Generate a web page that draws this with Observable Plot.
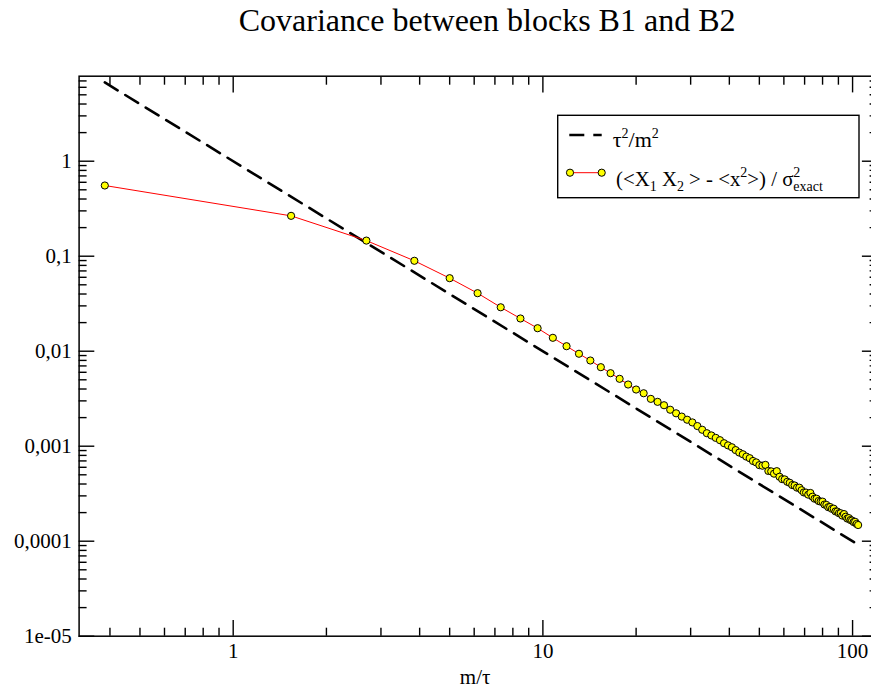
<!DOCTYPE html>
<html><head><meta charset="utf-8">
<script src="https://cdn.jsdelivr.net/npm/d3@7"></script>
<script src="https://cdn.jsdelivr.net/npm/@observablehq/plot@0.6"></script>
<style>
html,body{margin:0;padding:0;background:#fff;}
#chart{width:871px;height:689px;overflow:hidden;}
#chart svg text{font-family:'Liberation Serif','Times New Roman',serif;}
</style></head><body><div id="chart"></div>
<script>
// ---- data ----
const mOverTau = [0.385, 1.538, 2.692, 3.846, 5.0, 6.154, 7.308, 8.462, 9.615, 10.769,
  11.923, 13.077, 14.231, 15.385, 16.538, 17.692, 18.846, 20.0, 21.154, 22.308,
  23.462, 24.615, 25.769, 26.923, 28.077, 29.231, 30.385, 31.538, 32.692, 33.846,
  35.0, 36.154, 37.308, 38.462, 39.615, 40.769, 41.923, 43.077, 44.231, 45.385,
  46.538, 47.692, 48.846, 50.0, 51.154, 52.308, 53.462, 54.615, 55.769, 56.923,
  58.077, 59.231, 60.385, 61.538, 62.692, 63.846, 65.0, 66.154, 67.308, 68.462,
  69.615, 70.769, 71.923, 73.077, 74.231, 75.385, 76.538, 77.692, 78.846, 80.0,
  81.154, 82.308, 83.462, 84.615, 85.769, 86.923, 88.077, 89.231, 90.385, 91.538,
  92.692, 93.846, 95.0, 96.154, 97.308, 98.462, 99.615, 100.769, 101.923, 103.077, 104.231];
const covariance = [0.555, 0.266, 0.146, 0.0895, 0.0587, 0.0408, 0.0290, 0.0221, 0.01746, 0.01384,
  0.01129, 0.0094, 0.00798, 0.00679, 0.00587, 0.00512, 0.00446, 0.00395, 0.00361, 0.00315,
  0.00293, 0.0027, 0.00242, 0.00222, 0.00205, 0.0019, 0.00178, 0.00163, 0.00149, 0.00137,
  0.001298, 0.001224, 0.001157, 0.001075, 0.001020, 0.000975, 0.000910, 0.000857, 0.000823, 0.000777,
  0.000748, 0.000699, 0.000675, 0.000632, 0.000623, 0.000636, 0.000549, 0.000543, 0.000514, 0.000546,
  0.000477, 0.000450, 0.000447, 0.000422, 0.000412, 0.000390, 0.000386, 0.000366, 0.000366, 0.000344,
  0.000326, 0.000325, 0.000309, 0.000322, 0.000294, 0.000280, 0.000280, 0.000265, 0.000261, 0.000261,
  0.000243, 0.000241, 0.000228, 0.000229, 0.000219, 0.000220, 0.000206, 0.000205, 0.000197, 0.000197,
  0.000186, 0.000193, 0.000181, 0.000173, 0.000175, 0.000167, 0.000165, 0.000159, 0.000160, 0.000152, 0.000148];
const refX = [0.385, 104.231];          // τ²/m² reference line
const refY = [6.746, 0.0000920];

const xMajor = [1, 10, 100];
const xMajorLabels = ["1", "10", "100"];
const xMinor = [0.4, 0.5, 0.6, 0.7, 0.8, 0.9, 2, 3, 4, 5, 6, 7, 8, 9, 20, 30, 40, 50, 60, 70, 80, 90];
const yMajor = [1e-5, 1e-4, 1e-3, 1e-2, 1e-1, 1];
const yMajorLabels = ["1e-05", "0,0001", "0,001", "0,01", "0,1", "1"];
const yMinor = [2e-5, 3e-5, 4e-5, 5e-5, 6e-5, 7e-5, 8e-5, 9e-5,
  2e-4, 3e-4, 4e-4, 5e-4, 6e-4, 7e-4, 8e-4, 9e-4,
  2e-3, 3e-3, 4e-3, 5e-3, 6e-3, 7e-3, 8e-3, 9e-3,
  0.02, 0.03, 0.04, 0.05, 0.06, 0.07, 0.08, 0.09,
  0.2, 0.3, 0.4, 0.5, 0.6, 0.7, 0.8, 0.9, 2, 3, 4, 5, 6, 7];
const title = "Covariance between blocks B1 and B2";
const xLabel = "m/τ";

// ---- build ----
const series = mOverTau.map((x, i) => ({x, y: covariance[i]}));
const ref = refX.map((x, i) => ({x, y: refY[i]}));
const xTicks = xMajor.map((v, i) => ({v, label: xMajorLabels[i]}));
const yTicks = yMajor.map((v, i) => ({v, label: yMajorLabels[i]}));
const font = "'Liberation Serif', 'Times New Roman', serif";
const tickW = 1.4, majorLen = 15.7, minorLen = 8;

const plot = Plot.plot({
  width: 871, height: 689,
  marginLeft: 78.6, marginRight: -5.6, marginTop: 75.7, marginBottom: 53.3,
  style: {fontFamily: font, fontSize: "21px", background: "white", color: "black", overflow: "visible"},
  x: {type: "log", domain: [0.318, 120], axis: null},
  y: {type: "log", domain: [1e-5, 7.85], axis: null},
  marks: [
    Plot.line(ref, {x: "x", y: "y", stroke: "black", strokeWidth: 2.6, strokeDasharray: "15,9"}),
    Plot.line(series, {x: "x", y: "y", stroke: "#ff0000", strokeWidth: 1}),
    Plot.dot(series, {x: "x", y: "y", r: 3.6, fill: "#ffff00", stroke: "black", strokeWidth: 1}),
    Plot.axisX(xMajor, {anchor: "bottom", tickSize: -majorLen, strokeWidth: tickW, fill: "none", label: null}),
    Plot.axisX(xMinor, {anchor: "bottom", tickSize: -minorLen, strokeWidth: tickW, fill: "none", label: null}),
    Plot.axisX(xMajor, {anchor: "top", tickSize: -majorLen, strokeWidth: tickW, fill: "none", label: null}),
    Plot.axisX(xMinor, {anchor: "top", tickSize: -minorLen, strokeWidth: tickW, fill: "none", label: null}),
    Plot.axisY(yMajor, {anchor: "left", tickSize: -majorLen, strokeWidth: tickW, fill: "none", label: null}),
    Plot.axisY(yMinor, {anchor: "left", tickSize: -minorLen, strokeWidth: tickW, fill: "none", label: null}),
    Plot.axisY(yMajor, {anchor: "right", tickSize: -majorLen, strokeWidth: tickW, fill: "none", label: null}),
    Plot.axisY(yMinor, {anchor: "right", tickSize: -minorLen, strokeWidth: tickW, fill: "none", label: null}),
    Plot.text(xTicks, {x: "v", frameAnchor: "bottom", dy: 15, lineAnchor: "middle", text: "label", fontSize: 21, fontFamily: font}),
    Plot.text(yTicks, {y: "v", frameAnchor: "left", dx: -7.3, textAnchor: "end", lineAnchor: "middle", text: "label", fontSize: 21, fontFamily: font}),
    Plot.frame({stroke: "black", strokeWidth: 1.5}),
    Plot.text([title], {frameAnchor: "top", dx: 9, dy: -55.7, lineAnchor: "middle", fontSize: 32, fontFamily: font, text: d => d}),
    Plot.text([xLabel], {frameAnchor: "bottom", dx: -3, dy: 41.3, lineAnchor: "middle", fontSize: 21, fontFamily: font, text: d => d})
  ]
});
document.getElementById("chart").appendChild(plot);

// ---- legend ----
const svg = d3.select(plot);
const lg = svg.append("g").attr("font-family", font).attr("fill", "black").attr("text-anchor", "start");
lg.append("rect").attr("x", 557.7).attr("y", 115.3).attr("width", 301.3).attr("height", 82.4)
  .attr("fill", "white").attr("stroke", "black").attr("stroke-width", 1.4);
lg.append("line").attr("x1", 569.3).attr("x2", 601.7).attr("y1", 135).attr("y2", 135)
  .attr("stroke", "black").attr("stroke-width", 2.6).attr("stroke-dasharray", "15,9");
const t1 = lg.append("text").attr("x", 612.7).attr("y", 146.7).attr("font-size", 22);
t1.append("tspan").text("τ");
t1.append("tspan").attr("dy", -9).attr("font-size", 14).text("2");
t1.append("tspan").attr("dy", 9).text("/m");
t1.append("tspan").attr("dy", -9).attr("font-size", 14).text("2");
lg.append("line").attr("x1", 570).attr("x2", 601.7).attr("y1", 172.7).attr("y2", 172.7)
  .attr("stroke", "#ff0000").attr("stroke-width", 1);
[570, 601.7].forEach(cx => lg.append("circle").attr("cx", cx).attr("cy", 172.7).attr("r", 3.6)
  .attr("fill", "#ffff00").attr("stroke", "black").attr("stroke-width", 1));
const t2 = lg.append("text").attr("x", 616).attr("y", 186).attr("font-size", 20.8);
t2.append("tspan").text("(<X");
t2.append("tspan").attr("dy", 5).attr("font-size", 14).text("1");
t2.append("tspan").attr("dy", -5).text(" X");
t2.append("tspan").attr("dy", 5).attr("font-size", 14).text("2");
t2.append("tspan").attr("dy", -5).text(" > - <x");
t2.append("tspan").attr("dy", -9).attr("font-size", 14).text("2");
t2.append("tspan").attr("dy", 9).text(">) / σ");
t2.append("tspan").attr("dy", -9).attr("font-size", 14).text("2");
t2.append("tspan").attr("dy", 14).attr("dx", -7).attr("font-size", 14).text("exact");
</script>
</body></html>
